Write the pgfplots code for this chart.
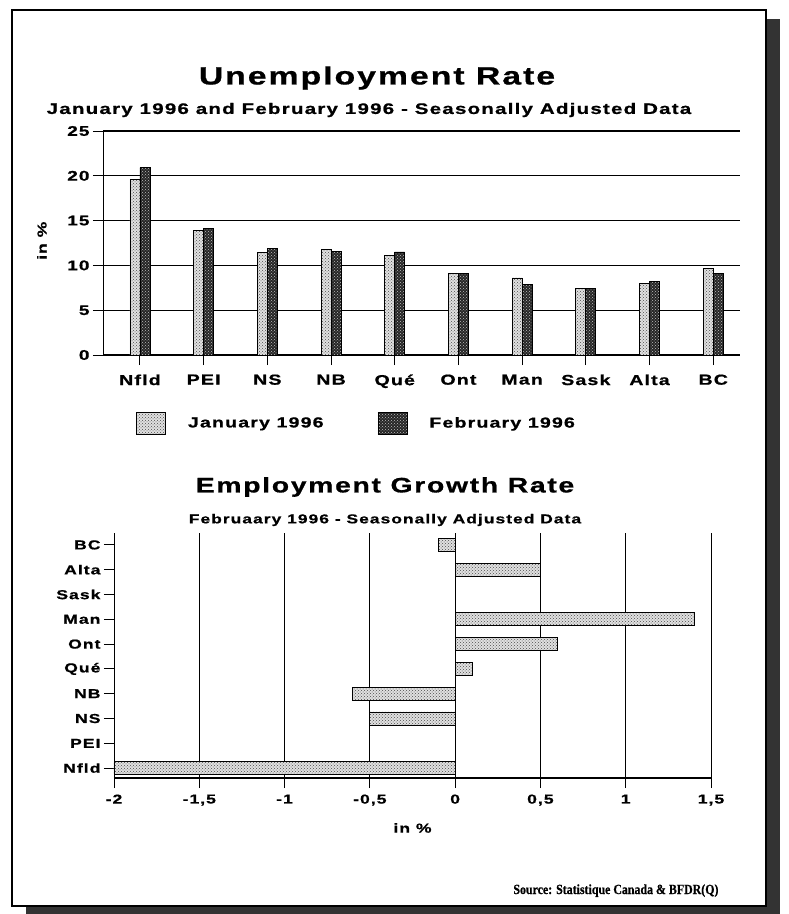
\documentclass[border=0pt]{standalone}
\usepackage{fontspec}
\setmainfont{Liberation Sans}[FakeStretch=1.35, LetterSpace=8, FakeBold=0.8]
\newfontfamily\srcfont{Liberation Serif}[FakeStretch=0.85, FakeBold=0.6]
\usepackage{pgfplots}
\pgfplotsset{compat=1.18}
\usetikzlibrary{patterns}
\tikzset{
  janbar/.style={draw=black, line width=0.8pt, fill=white!88!black, postaction={pattern=crosshatch dots, pattern color=black!70}},
  febbar/.style={draw=black, line width=0.8pt, fill=black!85, postaction={pattern=crosshatch dots, pattern color=white!75!black}},
}
\pgfplotsset{mybox legend/.style={legend image code/.code={\draw[##1] (0pt,-11pt) rectangle (29pt,11pt);}}}
\newcommand{\fs}[1]{\bfseries\fontsize{#1}{#1}\selectfont}
\begin{document}
\begin{tikzpicture}
\path[use as bounding box] (0pt,0pt) rectangle (789pt,-914pt);
% frame and shadow
\fill[black!80] (766pt,-19pt) rectangle (780pt,-914pt);
\fill[black!80] (26pt,-906pt) rectangle (780pt,-914pt);
\draw[line width=1.4pt, fill=white] (12pt,-10pt) rectangle (766pt,-906pt);
% titles
\node[font=\fs{25}] at (377pt,-78pt) {Unemployment Rate};
\node[font=\fs{15.2}] at (369pt,-110pt) {January 1996 and February 1996 - Seasonally Adjusted Data};
\node[font=\fs{21}] at (385pt,-487pt) {Employment Growth Rate};
\node[font=\fs{12.9}] at (385pt,-520pt) {Februaary 1996 - Seasonally Adjusted Data};
\node[anchor=base east, font=\srcfont\bfseries\fontsize{14}{14}\selectfont] at (722pt,-894pt) {Source: Statistique Canada \& BFDR(Q)};

\begin{axis}[
  at={(103pt,-355pt)}, anchor=south west, scale only axis,
  width=637pt, height=224pt,
  xmin=-0.58, xmax=9.42, ymin=0, ymax=25,
  ybar=0pt, bar width=10pt,
  xtick={0,...,9}, xticklabels={Nfld,PEI,NS,NB,Qué,Ont,Man,Sask,Alta,BC},
  ytick={0,5,10,15,20,25}, yticklabels={0,5,10,15,20,25},
  axis x line*=bottom, axis y line*=left,
  x axis line style={-, line width=1.5pt},
  y axis line style={-, line width=0.9pt},
  ymajorgrids, grid style={black, line width=1.3pt},
  tick align=outside, major tick length=10pt,
  tick style={black, line width=0.9pt},
  xticklabel style={font=\fs{14.5}, yshift=-6pt},
  yticklabel style={font=\fs{14}},
  ylabel={in \%}, ylabel style={font=\fs{13}, at={(axis description cs:-0.096,0.51)}, anchor=center},
  legend style={at={(0.052,-0.304)}, anchor=west, draw=none, fill=none, inner sep=0pt, outer sep=0pt,
    legend columns=2, font=\fs{14.5},
    /tikz/every odd column/.append style={column sep=20pt},
    /tikz/every even column/.append style={column sep=52pt}},
  legend cell align=left,
]
\addplot[janbar, mybox legend] coordinates {(0,19.6) (1,13.9) (2,11.4) (3,11.8) (4,11.1) (5,9.1) (6,8.6) (7,7.4) (8,8.0) (9,9.7)};
\addlegendentry{January 1996}
\addplot[febbar, mybox legend] coordinates {(0,20.9) (1,14.1) (2,11.9) (3,11.6) (4,11.5) (5,9.1) (6,7.9) (7,7.4) (8,8.2) (9,9.1)};
\addlegendentry{February 1996}
\end{axis}

\begin{axis}[
  at={(114pt,-778pt)}, anchor=south west, scale only axis,
  width=597pt, height=245pt,
  xmin=-2, xmax=1.5, ymin=-0.4, ymax=9.48,
  xbar, bar width=13pt,
  ytick={0,...,9}, yticklabels={Nfld,PEI,NS,NB,Qué,Ont,Man,Sask,Alta,BC},
  xtick={-2,-1.5,-1,-0.5,0,0.5,1,1.5}, xticklabels={-2,{-1,5},-1,{-0,5},0,{0,5},1,{1,5}},
  axis x line*=bottom, axis y line*=left,
  x axis line style={-, line width=1.5pt},
  y axis line style={-, line width=0.9pt},
  xmajorgrids, grid style={black, line width=0.9pt},
  tick align=outside, major tick length=10pt,
  tick style={black, line width=0.9pt},
  xticklabel style={font=\fs{13}, yshift=-3pt},
  yticklabel style={font=\fs{13}},
  xlabel={in \%}, xlabel style={font=\fs{13}, at={(axis description cs:0.5,-0.204)}, anchor=center},
]
\addplot[janbar] coordinates {(-2.0,0) (0,1) (-0.5,2) (-0.6,3) (0.1,4) (0.6,5) (1.4,6) (0,7) (0.5,8) (-0.1,9)};
\end{axis}
\end{tikzpicture}
\end{document}
